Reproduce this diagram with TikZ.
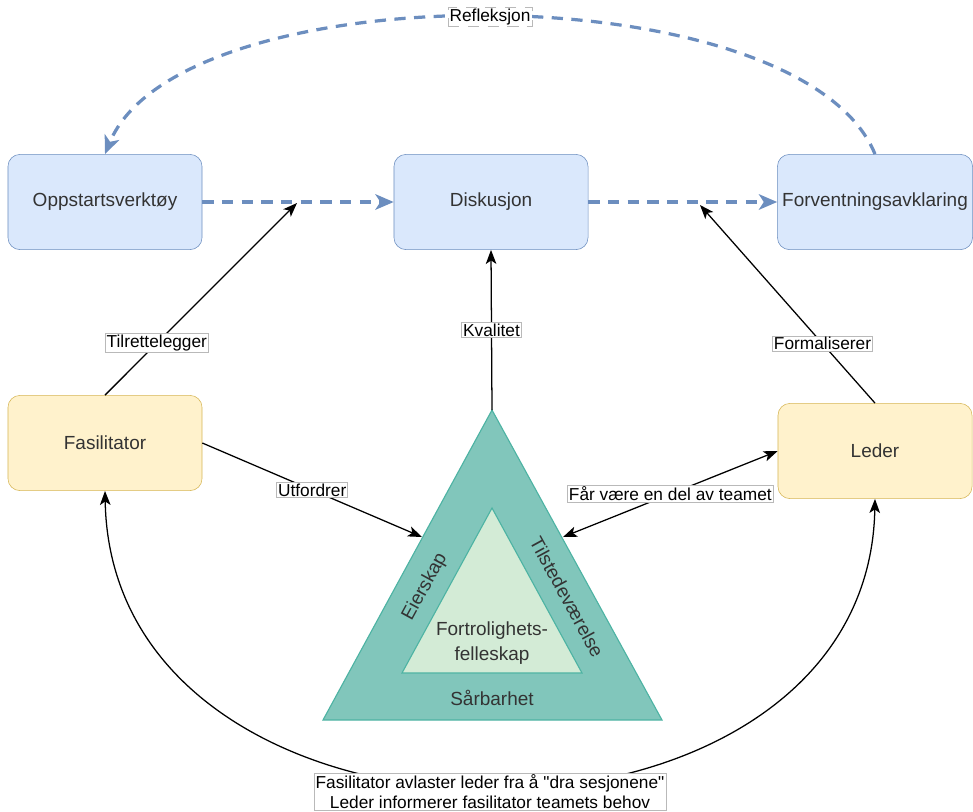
\documentclass[tikz,border=0pt]{standalone}
\usepackage{fontspec}
\setmainfont{Liberation Sans}[Ligatures=TeXOff]
\usetikzlibrary{arrows.meta}
\begin{document}
\begin{tikzpicture}[x=0.025cm, y=-0.025cm,
    >={Stealth[length=10pt, width=7.5pt, inset=2.5pt]},
    bluebox/.style={draw=boxblueline, fill=boxblue, rounded corners=0.3cm, minimum width=4.85cm, minimum height=2.38cm, text=textgray, font=\fontsize{13.5}{16}\selectfont},
    yellowbox/.style={bluebox, draw=boxyellowline, fill=boxyellow},
    edge/.style={->, line width=0.9pt},
    dasharrow/.style={-{Stealth[length=13pt, width=11pt, inset=3.5pt]}, line width=2.3pt, draw=boxblueline, dash pattern=on 8pt off 6pt},
    lbl/.style={fill=white, draw=gray!55, line width=0.4pt, inner sep=1pt, font=\fontsize{12.3}{14}\selectfont},
    tritext/.style={text=textgray, font=\fontsize{13.5}{16}\selectfont}]
    \definecolor{boxblue}{HTML}{DAE8FC}
    \definecolor{boxblueline}{HTML}{6C8EBF}
    \definecolor{boxyellow}{HTML}{FFF2CC}
    \definecolor{boxyellowline}{HTML}{D6B656}
    \definecolor{triouter}{HTML}{81C6BB}
    \definecolor{triline}{HTML}{4DB3A3}
    \definecolor{triinner}{HTML}{D3EBD6}
    \definecolor{textgray}{HTML}{333333}
    \useasboundingbox (0,0) rectangle (973,811);
    % boxes
    \node[bluebox] (opp) at (105,202) {Oppstartsverktøy};
    \node[bluebox] (disk) at (491,202) {Diskusjon};
    \node[bluebox] (forv) at (875,202) {Forventningsavklaring};
    \node[yellowbox] (fas) at (105,443) {Fasilitator};
    \node[yellowbox] (led) at (875,451) {Leder};
    % triangle
    \coordinate (apex) at (492,410);
    \filldraw[fill=triouter, draw=triline, line width=0.8pt] (apex) -- (662,720) -- (323,720) -- cycle;
    \filldraw[fill=triinner, draw=triline, line width=0.8pt] (492,508) -- (582,673) -- (402,673) -- cycle;
    \node[tritext, rotate=61.4] (eier) at (425,587) {Eierskap};
    \node[tritext, rotate=-61.4] (tilst) at (567,597) {Tilstedeværelse};
    \node[tritext, align=center, font=\fontsize{13.5}{18}\selectfont] (fort) at (492,643) {Fortrolighets-\\felleskap};
    \node[tritext] (sarb) at (492,698) {Sårbarhet};
    % end points on lines and triangle
    \coordinate (tilend) at (297,203);
    \coordinate (forend) at (700,205);
    \coordinate (utfend) at (422,537);
    \coordinate (farend) at (563,537);
    % dashed flow
    \draw[dasharrow] (opp) -- (disk);
    \draw[dasharrow] (disk) -- (forv);
    \draw[dasharrow] (forv.north) .. controls (800,-29) and (180,-29) .. (opp.north)
        node[pos=0.5, lbl] {Refleksjon};
    % black connectors
    \draw[edge] (fas.north) -- (tilend) node[pos=0.27, lbl] {Tilrettelegger};
    \draw[edge] (apex) -- (disk.south) node[pos=0.5, lbl] {Kvalitet};
    \draw[edge] (led.north) -- (forend) node[pos=0.3, lbl] {Formaliserer};
    \draw[edge] (fas.east) -- (utfend) node[pos=0.5, lbl] {Utfordrer};
    \draw[edge, <->] (led.west) -- (farend) node[pos=0.5, lbl] {Får være en del av teamet};
    \draw[edge, <->] (fas.south) .. controls (112,885) and (868,885) .. (led.south)
        node[pos=0.5, lbl, align=center, yshift=-0.1cm] {Fasilitator avlaster leder fra å "dra sesjonene"\\Leder informerer fasilitator teamets behov};
\end{tikzpicture}
\end{document}
